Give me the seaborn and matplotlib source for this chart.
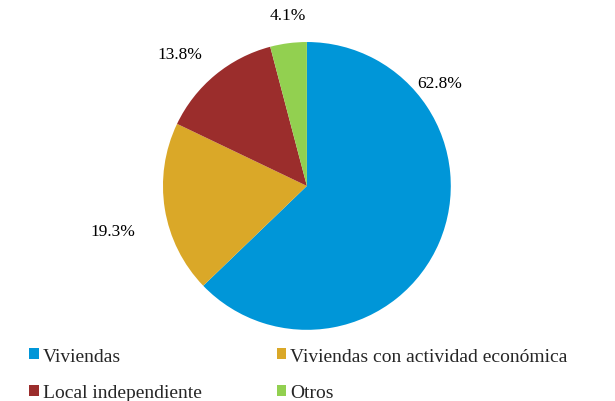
import matplotlib
matplotlib.use('Agg')
import matplotlib.pyplot as plt
import seaborn as sns
from matplotlib.patches import Patch

sns.set_theme(style="white")
plt.rcParams['font.family'] = ['Liberation Serif', 'DejaVu Serif']

categories = ["Viviendas", "Viviendas con actividad económica",
              "Local independiente", "Otros"]
shares = [62.8, 19.3, 13.8, 4.1]
colors = ["#0096d8", "#daa828", "#9b2d2c", "#92d050"]

# label positions (pie radius units), Excel best-fit style
label_pos = [(0.92, 0.715), (-1.35, -0.31), (-0.88, 0.92), (-0.13, 1.19)]

fig = plt.figure(figsize=(6.15, 4.02), dpi=100)
ax = fig.add_axes([0.265, 0.177, 0.468, 0.716])

wedges, _ = ax.pie(shares, colors=colors, startangle=90, counterclock=False,
                   radius=1.0, wedgeprops={'linewidth': 0})
for (x, y), v in zip(label_pos, shares):
    ax.text(x, y, f"{v:.1f}%", ha='center', va='center', fontsize=12.5,
            color='black')
ax.set_xlim(-1, 1)
ax.set_ylim(-1, 1)
ax.set_aspect('equal')
ax.axis('off')

# legend fills column-wise, so reorder to get row-wise layout
order = [0, 2, 1, 3]
handles = [Patch(facecolor=colors[i], edgecolor='none') for i in order]
labels = [categories[i] for i in order]
fig.legend(handles, labels, ncol=2, loc='lower left',
           bbox_to_anchor=(0.035, -0.02), frameon=False, fontsize=14,
           handlelength=0.5, handleheight=0.5, handletextpad=0.2,
           columnspacing=3.85, labelspacing=1.0, borderaxespad=0)

fig.savefig("out.png", dpi=100)
